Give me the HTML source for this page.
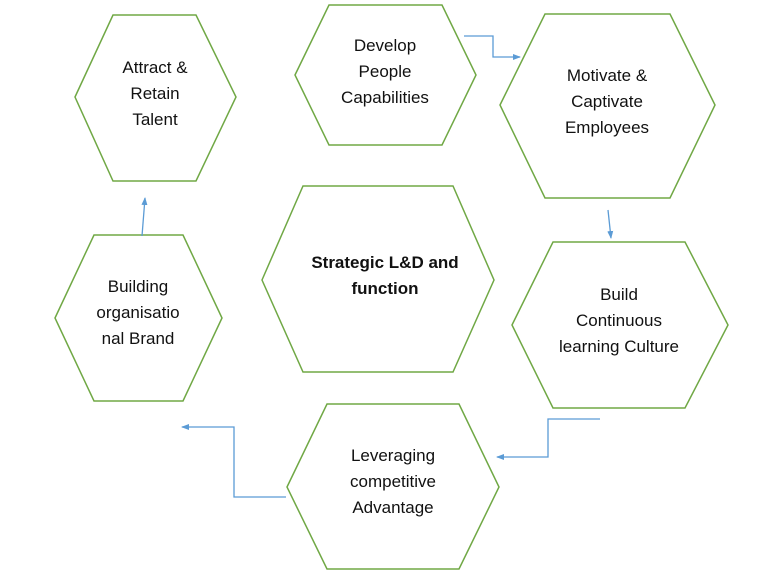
<!DOCTYPE html>
<html><head><meta charset="utf-8"><style>
html,body{margin:0;padding:0;background:#fff;}
svg text{font-family:"Liberation Sans",sans-serif;font-size:17px;fill:#111;text-anchor:middle;}
</style></head><body>
<svg width="768" height="581" viewBox="0 0 768 581" xmlns="http://www.w3.org/2000/svg">
<defs><marker id="a" markerWidth="8" markerHeight="8" refX="7" refY="4" orient="auto" markerUnits="userSpaceOnUse"><path d="M0,1 L8,4 L0,7 Z" fill="#5b9bd5"/></marker></defs>
<g fill="none" stroke="#70a845" stroke-width="1.5">
<polygon points="75,97 113,15 196,15 236,97 196,181 113,181"/>
<polygon points="295,75 329,5 442,5 476,75 442,145 329,145"/>
<polygon points="500,105 545,14 670,14 715,105 670,198 545,198"/>
<polygon points="262,280 303,186 453,186 494,280 453,372 303,372"/>
<polygon points="55,318 94,235 183,235 222,318 183,401 94,401"/>
<polygon points="512,325 553,242 685,242 728,325 685,408 553,408"/>
<polygon points="287,487 327,404 459,404 499,487 459,569 327,569"/>
</g>
<g fill="none" stroke="#5b9bd5" stroke-width="1.3" marker-end="url(#a)">
<polyline points="464,36 493,36 493,57 520,57"/>
<line x1="608" y1="210" x2="611" y2="238"/>
<polyline points="600,419 548,419 548,457 497,457"/>
<polyline points="286,497 234,497 234,427 182,427"/>
<line x1="142" y1="236" x2="145" y2="198"/>
</g>
<text x="155" y="73">Attract &amp;</text><text x="155" y="99">Retain</text><text x="155" y="125">Talent</text>
<text x="385" y="51">Develop</text><text x="385" y="77">People</text><text x="385" y="103">Capabilities</text>
<text x="607" y="81">Motivate &amp;</text><text x="607" y="107">Captivate</text><text x="607" y="133">Employees</text>
<text x="385" y="268" style="font-weight:bold">Strategic L&amp;D and</text><text x="385" y="294" style="font-weight:bold">function</text>
<text x="138" y="292">Building</text><text x="138" y="318">organisatio</text><text x="138" y="344">nal Brand</text>
<text x="619" y="300">Build</text><text x="619" y="326">Continuous</text><text x="619" y="352">learning Culture</text>
<text x="393" y="461">Leveraging</text><text x="393" y="487">competitive</text><text x="393" y="513">Advantage</text>
</svg>
</body></html>
